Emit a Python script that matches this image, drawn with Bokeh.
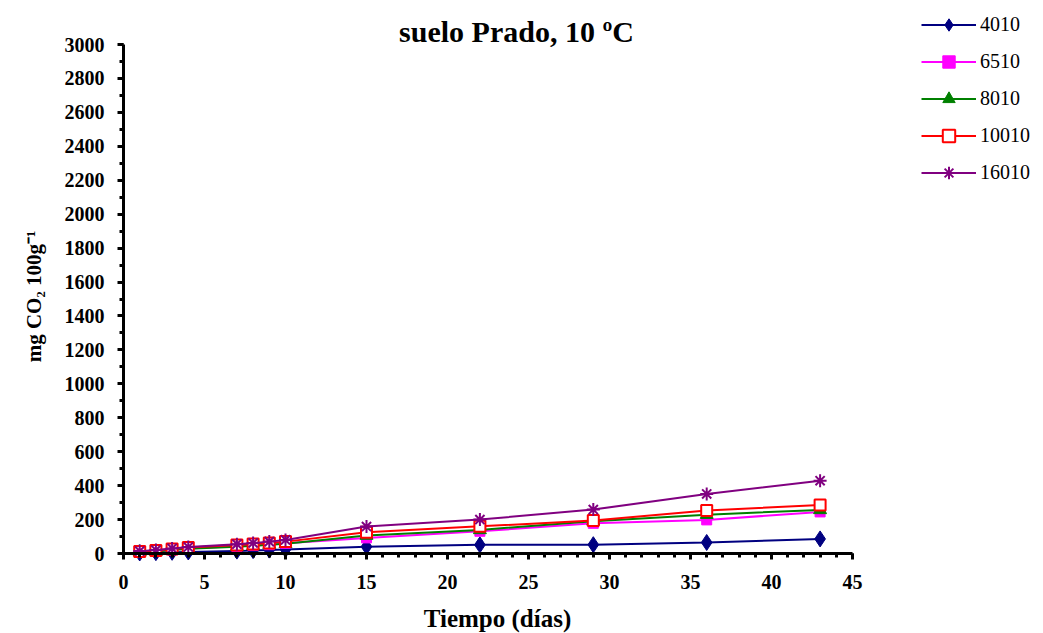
import math
from bokeh.plotting import figure
from bokeh.models import Range1d, Legend, LegendItem, SingleIntervalTicker, Label
from bokeh.embed import file_html
from bokeh.resources import INLINE

days = [1, 2, 3, 4, 7, 8, 9, 10, 15, 22, 29, 36, 43]
s4010 = [3, 5, 7, 9, 14, 17, 20, 24, 40, 51, 52, 65, 86]
s6510 = [10, 14, 22, 30, 42, 47, 52, 60, 92, 131, 178, 198, 245]
s8010 = [8, 12, 20, 28, 40, 45, 52, 58, 106, 139, 190, 229, 257]
s10010 = [12, 17, 27, 35, 50, 56, 62, 70, 125, 160, 194, 253, 286]
s16010 = [14, 20, 30, 38, 55, 62, 70, 80, 159, 200, 259, 351, 429]

names = ["4010", "6510", "8010", "10010", "16010"]
series = [s4010, s6510, s8010, s10010, s16010]
colors = ["#000080", "#FF00FF", "#008000", "#FF0000", "#800080"]
markers = ["diamond", "square", "triangle", "square", "asterisk"]
fills = ["#000080", "#FF00FF", "#008000", "white", "#800080"]
sizes = [16, 10, 13, 11, 13]
widths = [1, 1, 1, 2, 2]

title_text = "suelo Prado, 10 ºC"
x_title = "Tiempo (días)"
y_title = "mg CO₂ 100g⁻¹"

FONT = "Liberation Serif"

# ---- layout: the frame covers the whole canvas, axes sit at fixed locations
W, H = 1043, 633
AX_LEFT, AX_RIGHT = 123, 852    # pixel x of 0 and 45
AX_TOP, AX_BOTTOM = 44, 553     # pixel y of 3000 and 0
X_MAX, Y_MAX = 45, 3000
kx = (AX_RIGHT - AX_LEFT) / X_MAX      # px per day
ky = (AX_BOTTOM - AX_TOP) / Y_MAX      # px per mg


def dx(px):
    return (px - AX_LEFT) / kx


def dy(py):
    return (AX_BOTTOM - py) / ky


p = figure(width=W, height=H, output_backend="svg", toolbar_location=None,
           x_range=Range1d(dx(0), dx(W)), y_range=Range1d(dy(H), dy(0)),
           min_border_left=0, min_border_right=0, min_border_top=0,
           min_border_bottom=0)
p.outline_line_color = None
p.grid.grid_line_color = None
p.background_fill_color = "white"
p.border_fill_color = "white"

p.xaxis.ticker = SingleIntervalTicker(interval=5, num_minor_ticks=5)
p.yaxis.ticker = SingleIntervalTicker(interval=200, num_minor_ticks=2)
p.xaxis.bounds = (0, X_MAX)
p.yaxis.bounds = (0, Y_MAX)
p.xaxis.fixed_location = 0
p.yaxis.fixed_location = 0

for ax in (p.xaxis[0], p.yaxis[0]):
    ax.axis_line_width = 3
    ax.axis_line_color = "black"
    ax.major_tick_line_width = 3
    ax.minor_tick_line_width = 3
    ax.major_tick_out = 6
    ax.major_tick_in = 0
    ax.minor_tick_out = 4
    ax.minor_tick_in = 0
    ax.major_label_text_font = FONT
    ax.major_label_text_font_style = "bold"
    ax.major_label_text_font_size = "20px"
    ax.major_label_text_color = "black"
p.xaxis.major_label_standoff = 15
p.yaxis.major_label_standoff = 13

items = []
for name, ys, c, m, f, s, lw in zip(names, series, colors, markers, fills, sizes, widths):
    r1 = p.line(days, ys, line_color=c, line_width=2)
    r2 = p.scatter(days, ys, marker=m, size=s, line_color=c, fill_color=f,
                   line_width=lw)
    items.append(LegendItem(label=name, renderers=[r1, r2]))

legend = Legend(items=items, location=(921, 445), glyph_width=55, glyph_height=31,
                label_height=31, spacing=6, label_text_font=FONT,
                label_text_font_size="20px", label_text_color="black",
                label_standoff=4, border_line_color=None, background_fill_alpha=0,
                padding=0, margin=0)
p.add_layout(legend, "center")

p.add_layout(Label(x=dx(516), y=dy(31), text=title_text, text_align="center",
                   text_baseline="alphabetic", text_font=FONT,
                   text_font_style="bold", text_font_size="30px",
                   text_color="black"))
p.add_layout(Label(x=dx(497), y=dy(618), text=x_title, text_align="center",
                   text_baseline="alphabetic", text_font=FONT,
                   text_font_style="bold", text_font_size="25px",
                   text_color="black"))
p.add_layout(Label(x=dx(33), y=dy(296), text=y_title, text_align="center",
                   text_baseline="middle", angle=math.pi / 2, text_font=FONT,
                   text_font_style="bold", text_font_size="21px",
                   text_color="black"))

open("out.html", "w").write(file_html(p, INLINE))
